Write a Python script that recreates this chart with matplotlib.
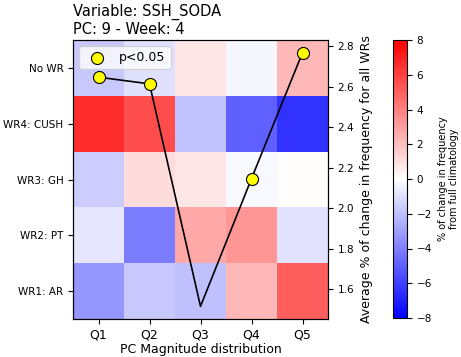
import numpy as np
import matplotlib
matplotlib.use("Agg")
import matplotlib.pyplot as plt
from matplotlib.colors import Normalize

# Heatmap rows (top to bottom) and PC magnitude quintiles
row_labels = ["No WR", "WR4: CUSH", "WR3: GH", "WR2: PT", "WR1: AR"]
col_labels = ["Q1", "Q2", "Q3", "Q4", "Q5"]

# % change in WR frequency from full climatology
no_wr = [-1.7, -1.0, 0.8, -0.3, 2.2]
wr4_cush = [6.6, 5.6, -1.9, -5.0, -6.4]
wr3_gh = [-1.6, 1.1, 0.8, -0.2, 0.1]
wr2_pt = [-0.8, -4.1, 2.7, 3.3, -0.9]
wr1_ar = [-3.3, -1.7, -2.0, 2.2, 5.0]

# Average % change across all WRs per quintile, with significance
avg_change = [2.648, 2.615, 1.516, 2.147, 2.769]
significant = [True, True, False, True, True]

title = "Variable: SSH_SODA\nPC: 9 - Week: 4"

values = np.array([no_wr, wr4_cush, wr3_gh, wr2_pt, wr1_ar])

fig = plt.figure(figsize=(4.61, 3.57), dpi=100)
ax = fig.add_axes([73 / 461, 38 / 357, 255 / 461, 279 / 357])
cax = fig.add_axes([393 / 461, 39 / 357, 14 / 461, 278 / 357])

norm = Normalize(vmin=-8, vmax=8)
mesh = ax.pcolormesh(np.arange(6), np.arange(6), values, cmap="bwr", norm=norm)
ax.set_xlim(0, 5)
ax.set_ylim(5, 0)
ax.set_xticks(np.arange(5) + 0.5)
ax.set_xticklabels(col_labels, fontsize=9)
ax.set_yticks(np.arange(5) + 0.5)
ax.set_yticklabels(row_labels, fontsize=7.5)
ax.set_xlabel("PC Magnitude distribution", fontsize=9, labelpad=1)
ax.set_title(title, loc="left", fontsize=10.5, pad=4)

ax2 = ax.twinx()
x = np.arange(5) + 0.5
ax2.plot(x, avg_change, color="black", lw=1.2, zorder=2)
sig_x = [xi for xi, s in zip(x, significant) if s]
sig_y = [yi for yi, s in zip(avg_change, significant) if s]
ax2.scatter(sig_x, sig_y, s=75, color="yellow", edgecolor="black", lw=0.8,
            zorder=3, label="p<0.05")
ax2.set_ylabel("Average % of change in frequency for all WRs", fontsize=9)
ax2.tick_params(labelsize=7.5)
ax2.legend(loc="upper left", fontsize=9, framealpha=0.8)

cb = fig.colorbar(mesh, cax=cax)
cb.set_ticks(np.arange(-8, 9, 2))
cb.ax.tick_params(labelsize=7.5)
cb.set_label("% of change in frequency\nfrom full climatology", fontsize=7)

fig.savefig("out.png", dpi=100)
